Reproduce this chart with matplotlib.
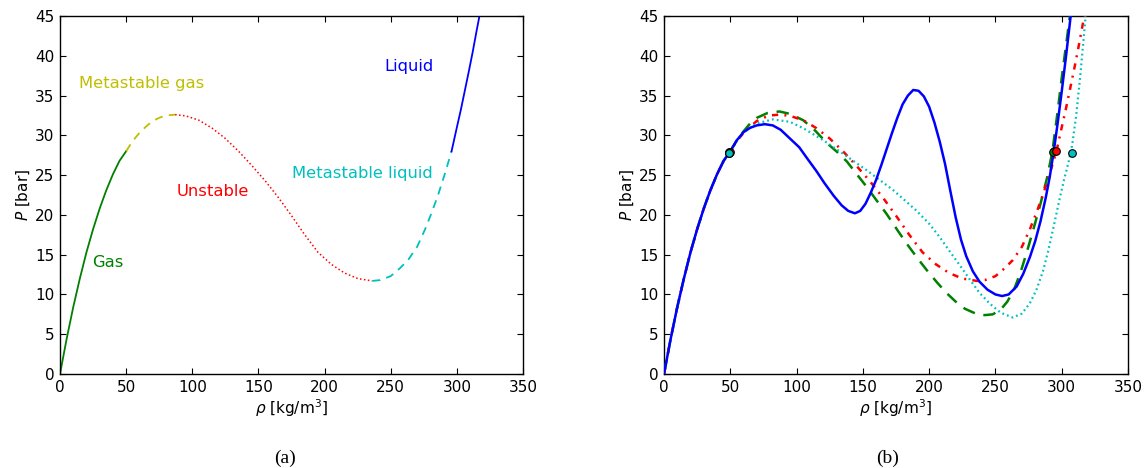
import matplotlib
matplotlib.use("Agg")
import matplotlib.pyplot as plt

# ---------------- data ----------------
# Left panel branches of the isotherm (also the red curve on the right)
gas_rho = [0, 5, 10, 15, 20, 25, 30, 35, 40, 45, 50]
gas_P = [0, 4.4, 8.4, 12.0, 15.3, 18.2, 20.8, 23.1, 25.1, 26.8, 28.0]

mgas_rho = [50, 55, 60, 65, 70, 75, 80, 87]
mgas_P = [28.0, 29.3, 30.3, 31.1, 31.8, 32.2, 32.5, 32.6]

unst_rho = [87, 95, 105, 115, 125, 135, 145, 155, 165, 175, 185, 195, 205, 215, 225, 236]
unst_P = [32.6, 32.45, 31.9, 30.9, 29.6, 28.0, 26.2, 24.3, 22.2, 19.9, 17.5, 15.3, 13.8, 12.7, 12.0, 11.7]

mliq_rho = [236, 242, 250, 257, 263, 270, 276, 281, 286, 291, 296]
mliq_P = [11.7, 11.8, 12.3, 13.3, 14.3, 16.0, 18.2, 20.3, 22.6, 25.2, 28.0]

liq_rho = [296, 300, 303, 306, 309, 312, 315, 318]
liq_P = [28.0, 31.0, 33.2, 35.6, 38.0, 40.5, 43.2, 45.8]

# Right panel: other isotherms (after the common gas branch)
blue_rho = [55, 60, 65, 70, 76, 82, 88, 95, 102, 108, 115, 121, 128, 134, 139, 144,
            148, 152, 156, 160, 164, 168, 172, 176, 180, 184, 188, 192, 196, 200,
            204, 208, 212, 216, 220, 224, 228, 233, 238, 244, 250, 255, 260, 266,
            271, 276, 280, 284, 288, 291, 294, 297, 300, 303, 306, 308]
blue_P = [29.4, 30.4, 30.95, 31.25, 31.4, 31.25, 30.7, 29.6, 28.5, 27.1, 25.5, 24.0, 22.4, 21.2, 20.5, 20.2,
          20.5, 21.4, 22.8, 24.4, 26.3, 28.3, 30.3, 32.2, 33.9, 35.0, 35.7, 35.6, 34.9, 33.6,
          31.6, 29.2, 26.4, 23.0, 19.7, 16.9, 14.8, 12.9, 11.6, 10.6, 10.0, 9.8, 10.0, 11.0,
          12.6, 14.7, 16.7, 19.2, 22.2, 24.8, 28.0, 31.6, 35.5, 39.6, 43.9, 46.8]

green_rho = [55, 60, 65, 70, 78, 87, 95, 105, 114, 123, 130, 138, 145, 153, 160, 168, 176,
             183, 191, 198, 206, 213, 220, 227, 235, 242, 248, 254, 259, 264, 269, 274,
             279, 284, 289, 293, 297, 300, 303, 306, 307]
green_P = [29.4, 30.5, 31.5, 32.2, 32.8, 33.0, 32.7, 31.9, 30.6, 29.0, 28.0, 26.7, 25.2, 23.5, 21.9, 20.1, 18.1,
           16.4, 14.6, 13.1, 11.5, 10.2, 9.1, 8.2, 7.6, 7.4, 7.5, 8.1, 9.1, 10.6, 12.8, 15.5,
           18.4, 21.4, 24.7, 28.0, 33.1, 37.2, 41.0, 44.8, 46.0]

cyan_rho = [55, 60, 70, 82, 95, 105, 120, 135, 153, 173, 190, 200, 208, 216, 223, 231,
            238, 246, 254, 263, 270, 276, 281, 286, 290, 294, 298, 302, 305, 308, 311,
            314, 317, 319]
cyan_P = [29.3, 30.4, 31.5, 32.0, 31.7, 30.9, 29.4, 27.7, 25.6, 23.1, 20.6, 18.9, 17.2, 15.3, 13.7, 11.8,
          10.2, 8.8, 7.7, 7.1, 7.6, 8.9, 10.6, 13.0, 15.6, 18.6, 21.7, 24.6, 26.5, 28.9, 32.6,
          37.5, 43.0, 47.0]

# Coexistence markers (vapour, liquid) per isotherm
mark_colors = ["b", "g", "r", "c"]
mark_vap_rho = [49.0, 49.3, 49.6, 48.9]
mark_vap_P = [27.8, 27.85, 27.9, 27.8]
mark_liq_rho = [294.2, 293.2, 295.7, 307.5]
mark_liq_P = [28.0, 27.85, 28.0, 27.75]

labels_text = ["Metastable gas", "Liquid", "Metastable liquid", "Unstable", "Gas"]
labels_xy = [(14.5, 36.0), (245, 38.1), (175, 24.6), (88, 22.4), (24.5, 13.4)]
labels_col = ["#bfbf00", "b", "#00bfbf", "r", "g"]

xticks = [0, 50, 100, 150, 200, 250, 300, 350]
yticks = [0, 5, 10, 15, 20, 25, 30, 35, 40, 45]

# ---------------- figure ----------------
plt.rcParams["font.family"] = ["DejaVu Sans"]
plt.rcParams["mathtext.fontset"] = "dejavusans"
fig = plt.figure(figsize=(11.45, 4.68), dpi=100)
ax1 = fig.add_axes([60 / 1145, 94 / 468, 463 / 1145, 358 / 468])
ax2 = fig.add_axes([664 / 1145, 94 / 468, 464 / 1145, 358 / 468])

G = (0, 0.5, 0)
Y = (0.75, 0.75, 0)
C = (0, 0.75, 0.75)

# left panel
ax1.plot(gas_rho, gas_P, color=G, lw=1.3)
ax1.plot(mgas_rho, mgas_P, color=Y, lw=1.3, dashes=(4.5, 3.5))
ax1.plot(unst_rho, unst_P, color="r", lw=1.1, dashes=(1, 1.6))
ax1.plot(mliq_rho, mliq_P, color=C, lw=1.3, dashes=(4.5, 3.5))
ax1.plot(liq_rho, liq_P, color="b", lw=1.3)
for t, (x, y), c in zip(labels_text, labels_xy, labels_col):
    ax1.text(x, y, t, color=c, fontsize=11.8)

# right panel
full_rho = gas_rho + mgas_rho[1:] + unst_rho[1:] + mliq_rho[1:] + liq_rho[1:]
full_P = gas_P + mgas_P[1:] + unst_P[1:] + mliq_P[1:] + liq_P[1:]
ax2.plot(gas_rho + blue_rho, gas_P + blue_P, color="b", lw=1.8, zorder=4)
ax2.plot(gas_rho + green_rho, gas_P + green_P, color=G, lw=1.8, dashes=(5, 3.5), zorder=3)
ax2.plot(full_rho, full_P, color="r", lw=1.8, dashes=(2.5, 2.5, 0.8, 2.5), zorder=3)
ax2.plot(gas_rho + cyan_rho, gas_P + cyan_P, color=C, lw=1.6, dashes=(0.8, 1.4), zorder=3)
for i, c in enumerate(mark_colors):
    ax2.plot([mark_vap_rho[i], mark_liq_rho[i]], [mark_vap_P[i], mark_liq_P[i]],
             ls="none", marker="o", ms=5.5, mfc=c, mec="k", mew=0.8, zorder=5 + i)

for ax in (ax1, ax2):
    ax.set_xlim(0, 350)
    ax.set_ylim(0, 45)
    ax.set_xticks(xticks)
    ax.set_yticks(yticks)
    ax.tick_params(direction="in", top=True, right=True, length=4, width=0.8, labelsize=11, pad=4)
    for s in ax.spines.values():
        s.set_linewidth(1.0)
    ax.set_xlabel(r"$\rho$ [kg/m$^3$]", fontsize=11, labelpad=2)
    ax.set_ylabel(r"$P$ [bar]", fontsize=11, labelpad=2)

fig.text(285 / 1145, 1 - 458 / 468, "(a)", family="Liberation Serif", fontsize=14, ha="center", va="center")
fig.text(888 / 1145, 1 - 458 / 468, "(b)", family="Liberation Serif", fontsize=14, ha="center", va="center")

fig.savefig("out.png", dpi=100)
